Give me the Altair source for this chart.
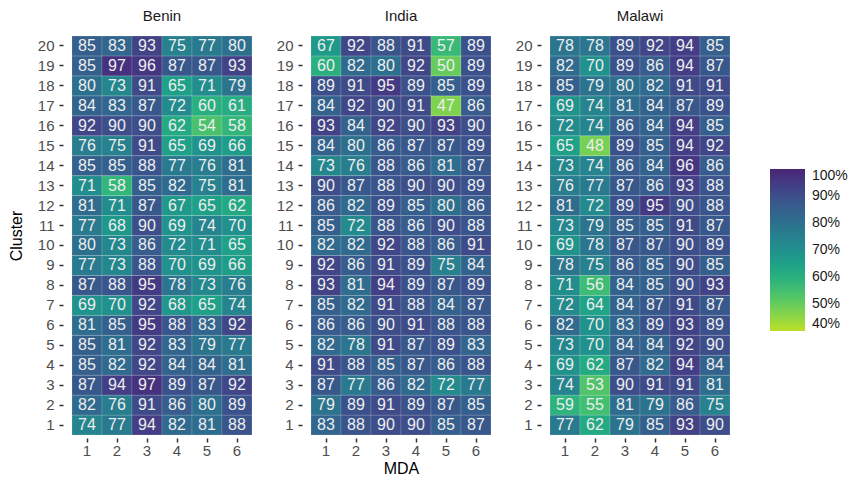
import altair as alt
import pandas as pd

countries = ["Benin", "India", "Malawi"]
mda_labels = [1, 2, 3, 4, 5, 6]
clusters = list(range(1, 21))

# Rows listed from cluster 1 up to cluster 20; columns are MDA 1..6 (percent)
benin = [
    [74, 77, 94, 82, 81, 88],
    [82, 76, 91, 86, 80, 89],
    [87, 94, 97, 89, 87, 92],
    [85, 82, 92, 84, 84, 81],
    [85, 81, 92, 83, 79, 77],
    [81, 85, 95, 88, 83, 92],
    [69, 70, 92, 68, 65, 74],
    [87, 88, 95, 78, 73, 76],
    [77, 73, 88, 70, 69, 66],
    [80, 73, 86, 72, 71, 65],
    [77, 68, 90, 69, 74, 70],
    [81, 71, 87, 67, 65, 62],
    [71, 58, 85, 82, 75, 81],
    [85, 85, 88, 77, 76, 81],
    [76, 75, 91, 65, 69, 66],
    [92, 90, 90, 62, 54, 58],
    [84, 83, 87, 72, 60, 61],
    [80, 73, 91, 65, 71, 79],
    [85, 97, 96, 87, 87, 93],
    [85, 83, 93, 75, 77, 80],
]
india = [
    [83, 88, 90, 90, 85, 87],
    [79, 89, 91, 89, 87, 85],
    [87, 77, 86, 82, 72, 77],
    [91, 88, 85, 87, 86, 88],
    [82, 78, 91, 87, 89, 83],
    [86, 86, 90, 91, 88, 88],
    [85, 82, 91, 88, 84, 87],
    [93, 81, 94, 89, 87, 89],
    [92, 86, 91, 89, 75, 84],
    [82, 82, 92, 88, 86, 91],
    [85, 72, 88, 86, 90, 88],
    [86, 82, 89, 85, 80, 86],
    [90, 87, 88, 90, 90, 89],
    [73, 76, 88, 86, 81, 87],
    [84, 80, 86, 87, 87, 89],
    [93, 84, 92, 90, 93, 90],
    [84, 92, 90, 91, 47, 86],
    [89, 91, 95, 89, 85, 89],
    [60, 82, 80, 92, 50, 89],
    [67, 92, 88, 91, 57, 89],
]
malawi = [
    [77, 62, 79, 85, 93, 90],
    [59, 55, 81, 79, 86, 75],
    [74, 53, 90, 91, 91, 81],
    [69, 62, 87, 82, 94, 84],
    [73, 70, 84, 84, 92, 90],
    [82, 70, 83, 89, 93, 89],
    [72, 64, 84, 87, 91, 87],
    [71, 56, 84, 85, 90, 93],
    [78, 75, 86, 85, 90, 85],
    [69, 78, 87, 87, 90, 89],
    [73, 79, 85, 85, 91, 87],
    [81, 72, 89, 95, 90, 88],
    [76, 77, 87, 86, 93, 88],
    [73, 74, 86, 84, 96, 86],
    [65, 48, 89, 85, 94, 92],
    [72, 74, 86, 84, 94, 85],
    [69, 74, 81, 84, 87, 89],
    [85, 79, 80, 82, 91, 91],
    [82, 70, 89, 86, 94, 87],
    [78, 78, 89, 92, 94, 85],
]
legend_values = [0.4, 0.5, 0.6, 0.7, 0.8, 0.9, 1.0]

tables = {"Benin": benin, "India": india, "Malawi": malawi}
records = []
for c in countries:
    for ci, row in zip(clusters, tables[c]):
        for m, v in zip(mda_labels, row):
            records.append({"Country": c, "Cluster": ci, "MDA": m,
                            "Pct": v, "Frac": v / 100.0})
df = pd.DataFrame(records)

FONT = "Liberation Sans"
color_scale = alt.Scale(scheme=alt.SchemeParams(name="viridis", extent=[0.9, 0.1]),
                        domain=[0.4, 1.0])


def panel(c, ytitle, xtitle):
    base = alt.Chart(df).transform_filter(alt.datum.Country == c)
    x = alt.X("MDA:O", sort=mda_labels,
              axis=alt.Axis(title=xtitle, labelAngle=0, offset=3))
    y = alt.Y("Cluster:O", sort="descending",
              axis=alt.Axis(title=ytitle, offset=9))
    rect = base.mark_rect(stroke="white", strokeWidth=0.6, strokeOpacity=0.25).encode(
        x=x, y=y,
        color=alt.Color("Frac:Q", scale=color_scale,
                        legend=alt.Legend(title=None, format=".0%", values=legend_values,
                                          orient="none", legendX=698, legendY=133,
                                          gradientLength=162, gradientThickness=35,
                                          labelFontSize=14, labelColor="#1a1a1a",
                                          labelFont=FONT, labelOffset=7)),
    )
    text = base.mark_text(color="#eeeeee", fontSize=16, font=FONT).encode(
        x=x, y=y, text=alt.Text("Pct:Q", format="d"))
    return (rect + text).properties(width=180, height=399, title=c)


chart = alt.hconcat(
    panel("Benin", "Cluster", None),
    panel("India", None, "MDA"),
    panel("Malawi", None, None),
    spacing=23,
).properties(padding=0).configure_view(stroke=None).configure_axis(
    domain=False, grid=False, tickColor="#333333", tickWidth=1.5, tickSize=4,
    labelColor="#4d4d4d", labelFontSize=15, labelFont=FONT, labelPadding=5,
    titleFont=FONT, titleFontSize=16, titleFontWeight="normal", titleColor="#000000",
    titlePadding=13,
).configure_axisX(labelPadding=1, titlePadding=2).configure_title(
    font=FONT, fontSize=15, fontWeight="normal", color="#1a1a1a", anchor="middle", offset=12,
)

chart.save("out.html", embed_options={"renderer": "svg", "actions": False})
